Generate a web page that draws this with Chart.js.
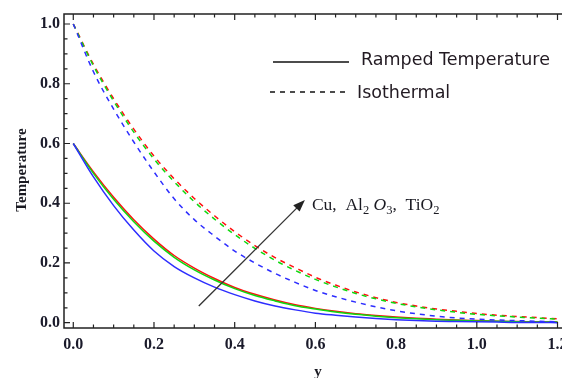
<!DOCTYPE html>
<html>
<head>
<meta charset="utf-8">
<script src="https://cdn.jsdelivr.net/npm/chart.js@4.4.1/dist/chart.umd.min.js"></script>
<style>
  html, body { margin: 0; padding: 0; background: #fff; overflow: hidden; }
  #wrap { width: 562px; height: 378px; position: relative; overflow: hidden; }
</style>
</head>
<body>
<div id="wrap"><canvas id="temp-chart" width="570" height="378"></canvas></div>
<script>
// Distância y (eixo horizontal)
const yDist = [0, 0.05, 0.1, 0.15, 0.2, 0.25, 0.3, 0.35, 0.4, 0.45, 0.5, 0.55, 0.6,
               0.65, 0.7, 0.75, 0.8, 0.85, 0.9, 0.95, 1.0, 1.05, 1.1, 1.15, 1.2];

// Temperatura rampa (linhas contínuas)
const rampTiO2  = [0.600, 0.505, 0.420, 0.345, 0.280, 0.225, 0.183, 0.148, 0.118, 0.095, 0.076, 0.060, 0.048,
                   0.038, 0.030, 0.024, 0.019, 0.015, 0.012, 0.009, 0.007, 0.005, 0.004, 0.003, 0.002];
const rampAl2O3 = [0.600, 0.500, 0.413, 0.338, 0.273, 0.219, 0.177, 0.143, 0.114, 0.091, 0.073, 0.057, 0.046,
                   0.036, 0.028, 0.022, 0.017, 0.013, 0.010, 0.008, 0.006, 0.005, 0.003, 0.002, 0.002];
const rampCu    = [0.600, 0.488, 0.392, 0.310, 0.240, 0.188, 0.150, 0.119, 0.094, 0.073, 0.056, 0.043, 0.032,
                   0.025, 0.019, 0.014, 0.010, 0.007, 0.005, 0.004, 0.003, 0.002, 0.001, 0.001, 0.000];

// Temperatura isotérmica (linhas tracejadas)
const isoTiO2  = [1.000, 0.865, 0.750, 0.648, 0.558, 0.482, 0.416, 0.358, 0.305, 0.258, 0.218, 0.184, 0.152,
                  0.126, 0.103, 0.084, 0.068, 0.056, 0.046, 0.038, 0.031, 0.025, 0.021, 0.017, 0.013];
const isoAl2O3 = [1.000, 0.860, 0.742, 0.638, 0.548, 0.472, 0.405, 0.347, 0.295, 0.249, 0.209, 0.175, 0.145,
                  0.120, 0.098, 0.080, 0.065, 0.053, 0.043, 0.035, 0.028, 0.023, 0.019, 0.015, 0.012];
const isoCu    = [1.000, 0.840, 0.715, 0.605, 0.505, 0.415, 0.345, 0.290, 0.240, 0.200, 0.165, 0.135, 0.108,
                  0.087, 0.069, 0.053, 0.040, 0.030, 0.022, 0.016, 0.012, 0.009, 0.007, 0.005, 0.003];

// Marcas dos eixos
const xTickValues = [0, 0.2, 0.4, 0.6, 0.8, 1.0, 1.2];
const xTickLabels = ['0.0', '0.2', '0.4', '0.6', '0.8', '1.0', '1.2'];
const yTickValues = [0, 0.2, 0.4, 0.6, 0.8, 1.0];
const yTickLabels = ['0.0', '0.2', '0.4', '0.6', '0.8', '1.0'];

// Seta indicando a ordem das nanopartículas
const arrowFrom = [0.311, 0.056];
const arrowTo = [0.574, 0.411];

const RED = 'rgb(255, 15, 15)';
const GREEN = 'rgb(15, 215, 15)';
const BLUE = 'rgb(45, 45, 255)';
const DASH = [5, 5];

function toPoints(values) {
    return yDist.map((y, i) => ({ x: y, y: values[i] }));
}

function serie(values, color, dashed) {
    return {
        data: toPoints(values),
        borderColor: color,
        borderWidth: 1.5,
        borderDash: dashed ? DASH : [],
        pointRadius: 0,
        fill: false,
        cubicInterpolationMode: 'monotone'
    };
}

// Moldura, marcas menores, títulos, legenda e seta
const frameAndNotes = {
    id: 'frameAndNotes',
    afterDraw(chart) {
        const ctx = chart.ctx;
        const area = chart.chartArea;
        const xs = chart.scales.x;
        const ys = chart.scales.y;
        ctx.save();

        // moldura
        ctx.strokeStyle = '#222';
        ctx.lineWidth = 1.5;
        ctx.strokeRect(area.left, area.top, area.right - area.left, area.bottom - area.top);

        // marcas (maiores a cada 0.2, menores a cada 0.05)
        ctx.lineWidth = 1.2;
        for (let i = 0; i <= 24; i++) {
            const v = i * 0.05;
            const len = i % 4 === 0 ? 6 : 3.5;
            const px = xs.getPixelForValue(v);
            ctx.beginPath();
            ctx.moveTo(px, area.bottom); ctx.lineTo(px, area.bottom - len);
            ctx.moveTo(px, area.top); ctx.lineTo(px, area.top + len);
            ctx.stroke();
        }
        for (let i = 0; i <= 20; i++) {
            const v = i * 0.05;
            const len = i % 4 === 0 ? 6 : 3.5;
            const py = ys.getPixelForValue(v);
            ctx.beginPath();
            ctx.moveTo(area.left, py); ctx.lineTo(area.left + len, py);
            ctx.moveTo(area.right, py); ctx.lineTo(area.right - len, py);
            ctx.stroke();
        }

        // títulos dos eixos
        ctx.fillStyle = '#1a1a22';
        ctx.font = 'bold 15px "Liberation Serif"';
        ctx.textAlign = 'center';
        ctx.textBaseline = 'middle';
        ctx.save();
        ctx.translate(22, 170);
        ctx.rotate(-Math.PI / 2);
        ctx.fillText('Temperature', 0, 0);
        ctx.restore();
        ctx.fillText('y', 318, 372);

        // legenda
        ctx.strokeStyle = '#111';
        ctx.lineWidth = 1.3;
        ctx.beginPath();
        ctx.moveTo(273, 62); ctx.lineTo(349, 62);
        ctx.stroke();
        ctx.setLineDash(DASH);
        ctx.beginPath();
        ctx.moveTo(270, 92); ctx.lineTo(347, 92);
        ctx.stroke();
        ctx.setLineDash([]);
        ctx.font = '17.5px "DejaVu Sans"';
        ctx.textAlign = 'left';
        ctx.textBaseline = 'alphabetic';
        ctx.fillStyle = '#221a22';
        ctx.fillText('Ramped Temperature', 361, 65);
        ctx.fillText('Isothermal', 357, 98);

        // seta
        const x0 = xs.getPixelForValue(arrowFrom[0]), y0 = ys.getPixelForValue(arrowFrom[1]);
        const x1 = xs.getPixelForValue(arrowTo[0]), y1 = ys.getPixelForValue(arrowTo[1]);
        const ang = Math.atan2(y1 - y0, x1 - x0);
        ctx.strokeStyle = '#333';
        ctx.fillStyle = '#222';
        ctx.lineWidth = 1.3;
        ctx.beginPath();
        ctx.moveTo(x0, y0);
        ctx.lineTo(x1 - 8 * Math.cos(ang), y1 - 8 * Math.sin(ang));
        ctx.stroke();
        ctx.beginPath();
        ctx.moveTo(x1, y1);
        ctx.lineTo(x1 - 12 * Math.cos(ang) + 4.5 * Math.sin(ang), y1 - 12 * Math.sin(ang) - 4.5 * Math.cos(ang));
        ctx.lineTo(x1 - 12 * Math.cos(ang) - 4.5 * Math.sin(ang), y1 - 12 * Math.sin(ang) + 4.5 * Math.cos(ang));
        ctx.closePath();
        ctx.fill();

        // rótulo da seta com subscritos
        const parts = [
            ['Cu,  Al', 'n'], ['2', 's'], [' ', 'n'], ['O', 'i'], ['3', 's'],
            [',  TiO', 'n'], ['2', 's']
        ];
        let tx = x1 + 7;
        const base = 210;
        ctx.fillStyle = '#1a1a22';
        parts.forEach(([t, kind]) => {
            if (kind === 's') ctx.font = '12.5px "Liberation Serif"';
            else if (kind === 'i') ctx.font = 'italic 17.5px "Liberation Serif"';
            else ctx.font = '17.5px "Liberation Serif"';
            ctx.fillText(t, tx, kind === 's' ? base + 4 : base);
            tx += ctx.measureText(t).width;
        });

        ctx.restore();
    }
};

const ctx = document.getElementById('temp-chart').getContext('2d');
new Chart(ctx, {
    type: 'line',
    data: {
        datasets: [
            serie(isoCu, BLUE, true),
            serie(isoAl2O3, GREEN, true),
            serie(isoTiO2, RED, true),
            serie(rampCu, BLUE, false),
            serie(rampAl2O3, GREEN, false),
            serie(rampTiO2, RED, false)
        ]
    },
    options: {
        responsive: false,
        animation: false,
        events: [],
        layout: { padding: { top: 14, right: 2, left: 0, bottom: 0 } },
        plugins: { legend: { display: false }, tooltip: { enabled: false } },
        scales: {
            x: {
                type: 'linear',
                min: -0.023,
                max: 1.226,
                afterBuildTicks: s => { s.ticks = xTickValues.map(v => ({ value: v })); },
                afterFit: s => { s.height = 50; s.paddingLeft = 0; s.paddingRight = 0; },
                grid: { display: false, drawTicks: false },
                border: { display: false },
                ticks: {
                    padding: 7,
                    maxRotation: 0,
                    autoSkip: false,
                    color: '#1a1a2a',
                    font: { family: '"Liberation Serif"', size: 16, weight: 'bold' },
                    callback: (v) => xTickLabels[xTickValues.indexOf(v)]
                }
            },
            y: {
                type: 'linear',
                min: -0.0177,
                max: 1.0335,
                afterBuildTicks: s => { s.ticks = yTickValues.map(v => ({ value: v })); },
                afterFit: s => { s.width = 64; s.paddingTop = 0; s.paddingBottom = 0; },
                grid: { display: false, drawTicks: false },
                border: { display: false },
                ticks: {
                    padding: 4,
                    autoSkip: false,
                    color: '#1a1a2a',
                    font: { family: '"Liberation Serif"', size: 16, weight: 'bold' },
                    callback: (v) => yTickLabels[yTickValues.indexOf(v)]
                }
            }
        }
    },
    plugins: [frameAndNotes]
});
</script>
</body>
</html>
